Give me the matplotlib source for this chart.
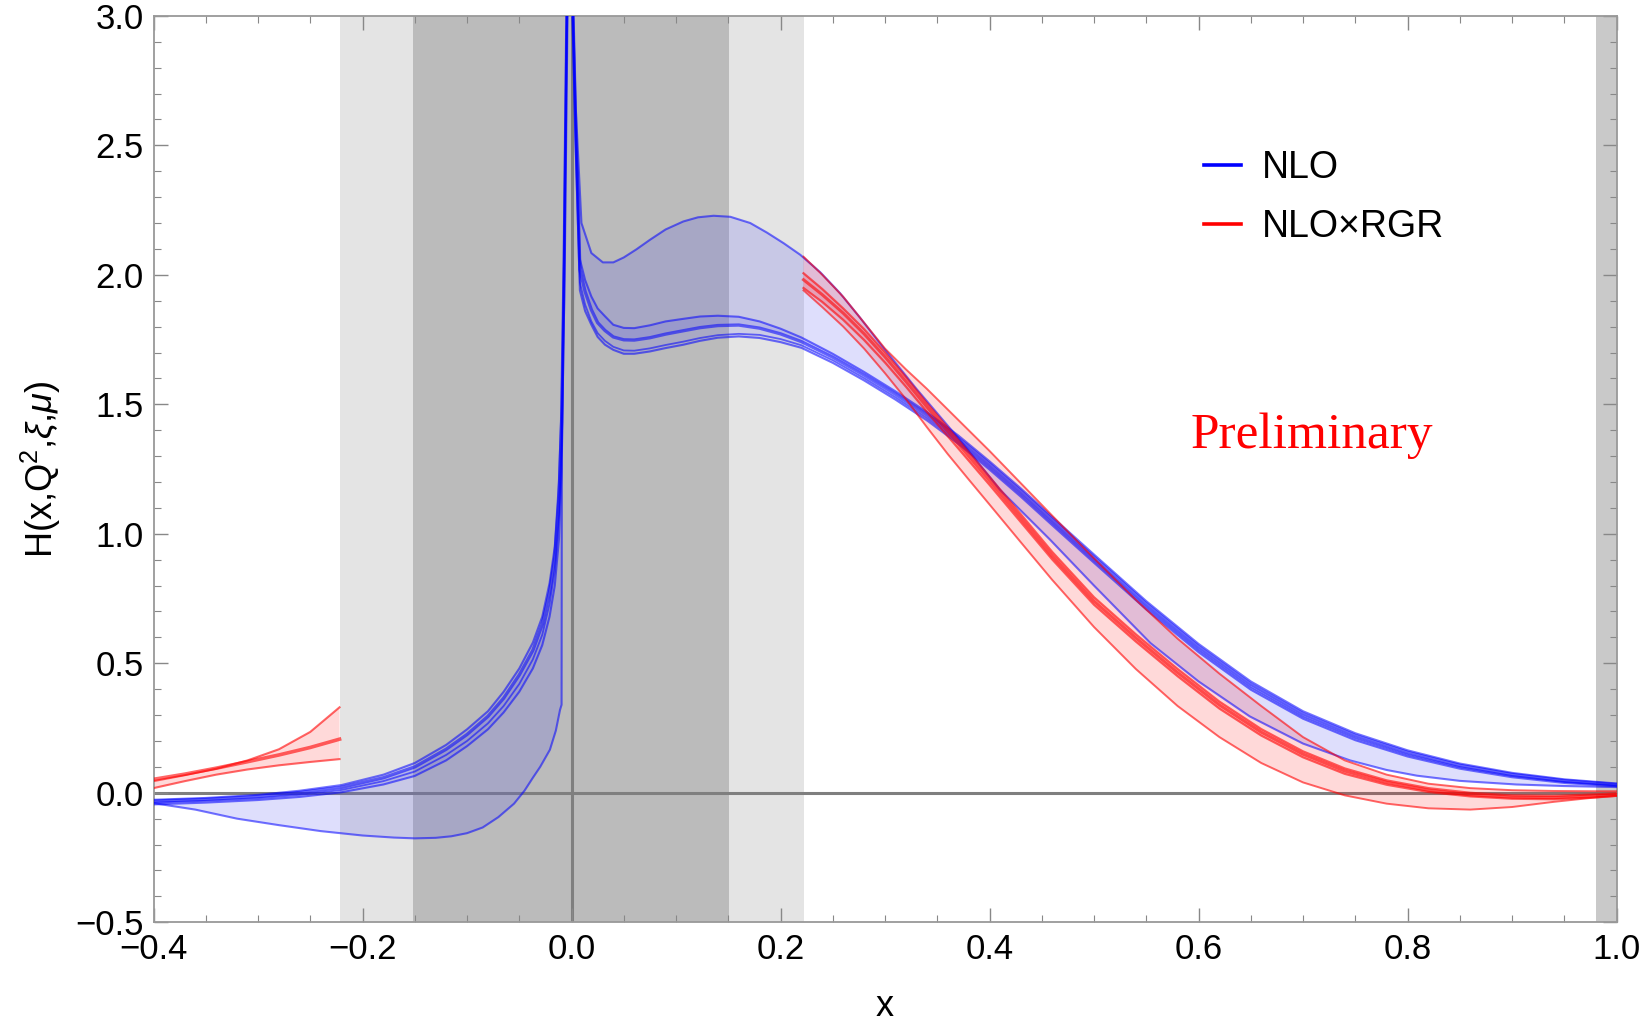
import numpy as np
import matplotlib
matplotlib.use("Agg")
import matplotlib.pyplot as plt
from matplotlib.lines import Line2D
from matplotlib.ticker import MultipleLocator

plt.rcParams["font.family"] = ["Liberation Sans", "DejaVu Sans"]
plt.rcParams["mathtext.fontset"] = "custom"
plt.rcParams["mathtext.rm"] = "Liberation Sans"
plt.rcParams["mathtext.it"] = "Liberation Sans:italic"

# NLO: outer variation (thin line), points (x, H)
nlo_edge = np.array([
    (-0.40, -0.040), (-0.36, -0.065), (-0.32, -0.100), (-0.28, -0.125),
    (-0.24, -0.148), (-0.20, -0.165), (-0.17, -0.173), (-0.15, -0.176),
    (-0.13, -0.174), (-0.115, -0.168), (-0.10, -0.156), (-0.085, -0.134),
    (-0.07, -0.094), (-0.055, -0.042), (-0.045, 0.008), (-0.037, 0.058),
    (-0.03, 0.100), (-0.0207, 0.166), (-0.015, 0.240), (-0.011, 0.320),
    (-0.0095, 0.340), (-0.0092, 1.300), (-0.007, 2.200), (-0.0045, 3.100),
    (-0.002, 3.600), (0.001, 3.100), (0.004, 2.650), (0.0095, 2.200),
    (0.019, 2.084), (0.030, 2.048), (0.040, 2.048), (0.050, 2.067),
    (0.062, 2.098), (0.075, 2.135), (0.09, 2.175), (0.107, 2.206),
    (0.121, 2.222), (0.136, 2.228), (0.152, 2.224), (0.171, 2.200),
    (0.187, 2.163), (0.203, 2.122), (0.219, 2.077), (0.238, 2.010),
    (0.257, 1.929), (0.276, 1.835), (0.295, 1.736), (0.33, 1.560),
    (0.37, 1.370), (0.41, 1.170), (0.458, 0.977), (0.50, 0.800),
    (0.554, 0.578), (0.60, 0.430), (0.649, 0.295), (0.70, 0.190),
    (0.745, 0.125), (0.78, 0.088), (0.809, 0.066), (0.85, 0.046),
    (0.904, 0.032), (0.95, 0.026), (1.00, 0.022),
])

# NLO: central curves, columns x, c1 (top), c2, c3, c4 (bottom)
nlo_core = np.array([
    (-0.40, -0.027, -0.032, -0.038, -0.045),
    (-0.35, -0.020, -0.025, -0.031, -0.038),
    (-0.30, -0.008, -0.014, -0.021, -0.028),
    (-0.26, 0.008, 0.001, -0.008, -0.016),
    (-0.22, 0.030, 0.021, 0.011, 0.002),
    (-0.18, 0.070, 0.058, 0.045, 0.032),
    (-0.15, 0.115, 0.100, 0.082, 0.065),
    (-0.12, 0.185, 0.168, 0.146, 0.125),
    (-0.10, 0.245, 0.225, 0.200, 0.180),
    (-0.08, 0.315, 0.295, 0.268, 0.245),
    (-0.065, 0.390, 0.365, 0.335, 0.310),
    (-0.05, 0.480, 0.455, 0.420, 0.390),
    (-0.037, 0.580, 0.550, 0.515, 0.480),
    (-0.028, 0.680, 0.650, 0.610, 0.570),
    (-0.021, 0.810, 0.775, 0.730, 0.680),
    (-0.016, 0.950, 0.910, 0.860, 0.800),
    (-0.012, 1.200, 1.140, 1.070, 0.980),
    (-0.0095, 1.500, 1.430, 1.340, 1.250),
    (-0.007, 2.100, 2.050, 1.980, 1.900),
    (-0.0045, 3.000, 2.970, 2.940, 2.900),
    (-0.002, 3.600, 3.600, 3.600, 3.600),
    (0.001, 3.100, 3.070, 3.030, 3.000),
    (0.004, 2.600, 2.570, 2.530, 2.500),
    (0.008, 2.060, 2.020, 1.970, 1.940),
    (0.013, 1.980, 1.935, 1.885, 1.860),
    (0.019, 1.916, 1.865, 1.820, 1.807),
    (0.025, 1.870, 1.815, 1.775, 1.760),
    (0.032, 1.840, 1.785, 1.745, 1.730),
    (0.040, 1.807, 1.760, 1.722, 1.710),
    (0.050, 1.795, 1.749, 1.708, 1.695),
    (0.060, 1.794, 1.748, 1.707, 1.695),
    (0.075, 1.805, 1.757, 1.716, 1.704),
    (0.090, 1.820, 1.771, 1.729, 1.717),
    (0.107, 1.830, 1.784, 1.742, 1.730),
    (0.123, 1.839, 1.796, 1.756, 1.745),
    (0.140, 1.842, 1.804, 1.767, 1.757),
    (0.160, 1.838, 1.806, 1.772, 1.762),
    (0.180, 1.820, 1.794, 1.768, 1.756),
    (0.200, 1.792, 1.772, 1.752, 1.740),
    (0.220, 1.758, 1.742, 1.728, 1.718),
    (0.250, 1.695, 1.682, 1.670, 1.660),
    (0.280, 1.625, 1.613, 1.601, 1.592),
    (0.310, 1.550, 1.539, 1.527, 1.518),
    (0.340, 1.470, 1.459, 1.447, 1.438),
    (0.370, 1.380, 1.369, 1.357, 1.348),
    (0.400, 1.280, 1.269, 1.257, 1.248),
    (0.430, 1.175, 1.164, 1.152, 1.143),
    (0.460, 1.065, 1.054, 1.042, 1.033),
    (0.500, 0.920, 0.909, 0.897, 0.888),
    (0.550, 0.740, 0.729, 0.717, 0.708),
    (0.600, 0.575, 0.564, 0.552, 0.543),
    (0.650, 0.430, 0.419, 0.407, 0.398),
    (0.700, 0.315, 0.305, 0.294, 0.286),
    (0.750, 0.230, 0.221, 0.211, 0.203),
    (0.800, 0.164, 0.156, 0.147, 0.140),
    (0.850, 0.113, 0.106, 0.099, 0.093),
    (0.900, 0.077, 0.071, 0.065, 0.060),
    (0.950, 0.052, 0.047, 0.042, 0.038),
    (1.000, 0.036, 0.032, 0.028, 0.025),
])

# NLO x RGR, region x < -xi: columns x, top, central, bottom
rgr_left = np.array([
    (-0.40, 0.045, 0.052, 0.018),
    (-0.37, 0.068, 0.072, 0.045),
    (-0.34, 0.093, 0.095, 0.070),
    (-0.31, 0.125, 0.120, 0.090),
    (-0.28, 0.168, 0.146, 0.106),
    (-0.25, 0.235, 0.175, 0.119),
    (-0.222, 0.330, 0.207, 0.130),
])

# NLO x RGR, x > xi: columns x, top, m1, m2, m3, bottom
rgr_right = np.array([
    (0.222, 2.070, 2.006, 1.981, 1.949, 1.940),
    (0.24, 2.000, 1.945, 1.923, 1.895, 1.875),
    (0.26, 1.915, 1.870, 1.852, 1.826, 1.800),
    (0.28, 1.815, 1.790, 1.772, 1.748, 1.715),
    (0.30, 1.715, 1.700, 1.683, 1.661, 1.620),
    (0.32, 1.635, 1.605, 1.588, 1.568, 1.520),
    (0.34, 1.560, 1.505, 1.490, 1.471, 1.412),
    (0.36, 1.480, 1.410, 1.395, 1.377, 1.308),
    (0.38, 1.400, 1.315, 1.300, 1.283, 1.210),
    (0.40, 1.320, 1.220, 1.205, 1.189, 1.113),
    (0.43, 1.195, 1.075, 1.060, 1.045, 0.967),
    (0.46, 1.070, 0.930, 0.915, 0.901, 0.822),
    (0.50, 0.905, 0.755, 0.740, 0.726, 0.640),
    (0.54, 0.745, 0.612, 0.598, 0.584, 0.478),
    (0.58, 0.595, 0.478, 0.464, 0.450, 0.335),
    (0.62, 0.460, 0.352, 0.339, 0.325, 0.215),
    (0.66, 0.335, 0.246, 0.234, 0.221, 0.115),
    (0.70, 0.215, 0.160, 0.149, 0.137, 0.040),
    (0.74, 0.125, 0.094, 0.084, 0.073, -0.010),
    (0.78, 0.070, 0.048, 0.040, 0.031, -0.042),
    (0.82, 0.035, 0.018, 0.010, 0.003, -0.060),
    (0.86, 0.018, 0.000, -0.008, -0.014, -0.065),
    (0.90, 0.010, -0.010, -0.017, -0.023, -0.055),
    (0.94, 0.007, -0.012, -0.019, -0.025, -0.035),
    (0.98, 0.006, -0.006, -0.012, -0.018, -0.018),
    (1.00, 0.006, -0.002, -0.007, -0.012, -0.012),
])

outer_region = (-0.222, 0.222)
inner_region = (-0.152, 0.151)
edge_region = (0.98, 1.0)


def band(ax, x1, y1, x2, y2, color, alpha):
    px = np.concatenate([x1, x2[::-1]])
    py = np.concatenate([y1, y2[::-1]])
    ax.fill(px, py, color=color, alpha=alpha, lw=0, zorder=2)


fig = plt.figure(figsize=(16.49, 10.21), dpi=100)
ax = fig.add_axes([0.0931, 0.0967, 0.8872, 0.8878])

ax.axvspan(*outer_region, color="#e4e4e4", lw=0, zorder=0)
ax.axvspan(*inner_region, color="#bbbbbb", lw=0, zorder=0)
ax.axvspan(*edge_region, color="#c9c9c9", lw=0, zorder=0)
ax.axhline(0, color="#7f7f7f", lw=2.2, zorder=1)
ax.axvline(0, color="#7f7f7f", lw=2.2, zorder=1)

blue = "#0000ff"
red = "#ff0000"
fill_blue = "#5a5af0"

# NLO bands
xc = nlo_core[:, 0]
band(ax, nlo_edge[:, 0], nlo_edge[:, 1], xc, nlo_core[:, 2], fill_blue, 0.2)
band(ax, xc, nlo_core[:, 1], xc, nlo_core[:, 4], fill_blue, 0.18)
ax.plot(nlo_edge[:, 0], nlo_edge[:, 1], color=blue, alpha=0.55, lw=1.5, zorder=3)
for col, lw in [(1, 1.5), (2, 2.4), (3, 1.3), (4, 1.5)]:
    ax.plot(xc, nlo_core[:, col], color=blue, alpha=0.55, lw=lw, zorder=3)

# NLO x RGR bands
xl = rgr_left[:, 0]
band(ax, xl, rgr_left[:, 1], xl, rgr_left[:, 3], red, 0.15)
ax.plot(xl, rgr_left[:, 1], color=red, alpha=0.6, lw=1.5, zorder=3)
ax.plot(xl, rgr_left[:, 2], color=red, alpha=0.6, lw=2.6, zorder=3)
ax.plot(xl, rgr_left[:, 3], color=red, alpha=0.6, lw=1.5, zorder=3)

xr = rgr_right[:, 0]
band(ax, xr, rgr_right[:, 1], xr, rgr_right[:, 5], red, 0.15)
band(ax, xr, rgr_right[:, 2], xr, rgr_right[:, 4], red, 0.15)
for col, lw in [(1, 1.4), (2, 1.6), (3, 2.2), (4, 1.6), (5, 1.4)]:
    ax.plot(xr, rgr_right[:, col], color=red, alpha=0.6, lw=lw, zorder=3)

ax.set_xlim(-0.4, 1.0)
ax.set_ylim(-0.5, 3.0)
ax.xaxis.set_major_locator(MultipleLocator(0.2))
ax.xaxis.set_minor_locator(MultipleLocator(0.05))
ax.yaxis.set_major_locator(MultipleLocator(0.5))
ax.yaxis.set_minor_locator(MultipleLocator(0.1))
ax.tick_params(which="both", direction="in", top=True, right=True,
               color="#888888", labelsize=25)
ax.tick_params(which="major", length=10, width=1.0)
ax.tick_params(which="minor", length=5, width=0.8)
ax.tick_params(axis="y", pad=7)
ax.tick_params(axis="x", pad=8)
for s in ax.spines.values():
    s.set_color("#999999")
    s.set_linewidth(1.3)

ax.set_xlabel("x", fontsize=26, labelpad=16)
ax.set_ylabel(r"H(x,Q$^2$,$\xi$,$\mu$)", fontsize=26)
ax.yaxis.set_label_coords(-0.062, 0.5)

handles = [Line2D([], [], color=blue, lw=2.6), Line2D([], [], color=red, lw=2.6)]
ax.legend(handles, ["NLO", "NLO×RGR"], loc="upper left",
          bbox_to_anchor=(1204 / 1649, 1 - 150 / 1021),
          bbox_transform=fig.transFigure, frameon=False, fontsize=27,
          borderpad=0, borderaxespad=0, handlelength=1.0,
          handletextpad=0.55, labelspacing=0.62)

ax.text(0.592, 1.332, "Preliminary", color=red, fontsize=37,
        family="Liberation Serif", ha="left", va="baseline", zorder=4)

fig.savefig("out.png", dpi=100)
